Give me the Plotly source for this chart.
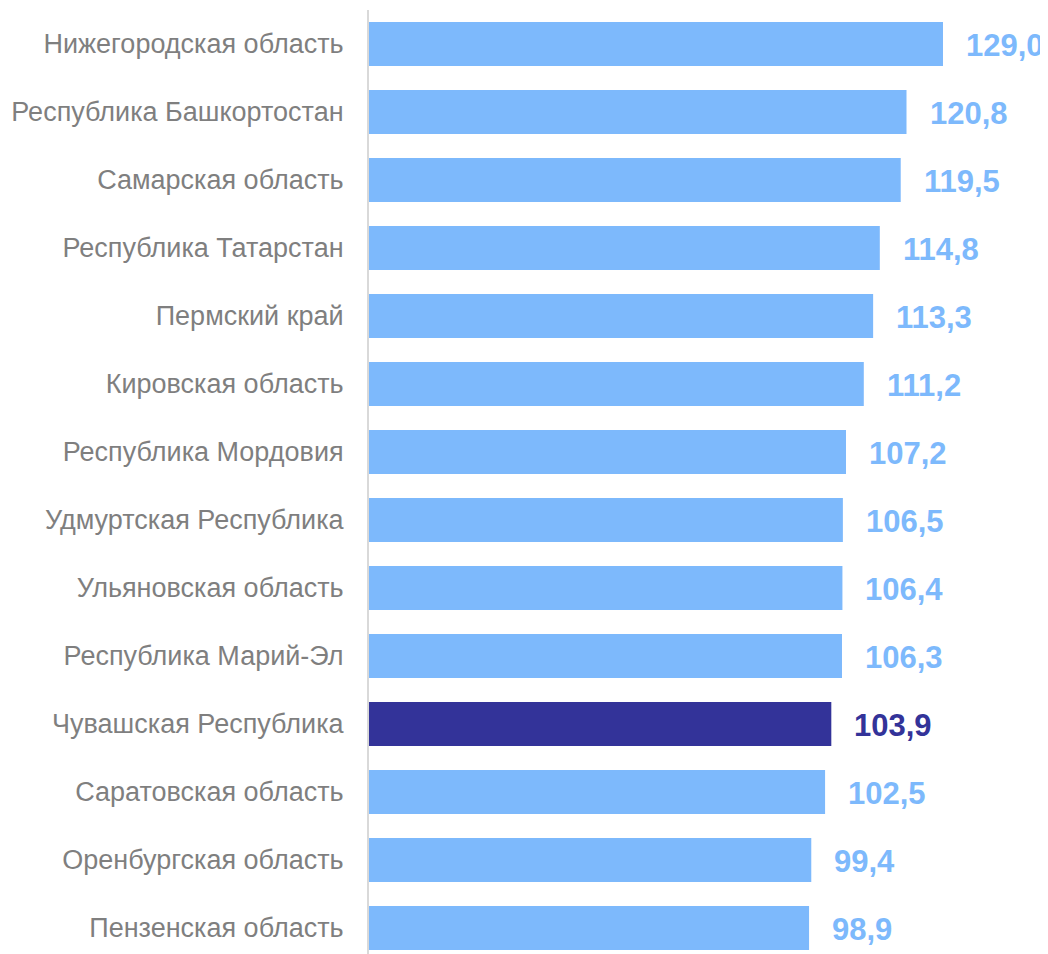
import plotly.graph_objects as go

regions = [
    "Нижегородская область",
    "Республика Башкортостан",
    "Самарская область",
    "Республика Татарстан",
    "Пермский край",
    "Кировская область",
    "Республика Мордовия",
    "Удмуртская Республика",
    "Ульяновская область",
    "Республика Марий-Эл",
    "Чувашская Республика",
    "Саратовская область",
    "Оренбургская область",
    "Пензенская область",
]
values = [129.0, 120.8, 119.5, 114.8, 113.3, 111.2, 107.2, 106.5, 106.4, 106.3, 103.9, 102.5, 99.4, 98.9]
highlight = "Чувашская Республика"

LIGHT = "#7DB9FC"
DARK = "#333399"
colors = [DARK if r == highlight else LIGHT for r in regions]
labels = [f"{v:.1f}".replace(".", ",") for v in values]

fig = go.Figure()
fig.add_trace(go.Bar(
    x=values, y=regions, orientation="h",
    marker=dict(color=colors, line=dict(width=0)),
    hoverinfo="skip",
))

for r, v, t, c in zip(regions, values, labels, colors):
    fig.add_annotation(
        x=v, y=r, text=t, showarrow=False,
        xanchor="left", xshift=21, yshift=-1,
        font=dict(family="Liberation Sans, Arial, sans-serif", size=31, color=c, weight="bold"),
    )

fig.update_layout(
    width=1040, height=946,
    margin=dict(l=361, r=0, t=2, b=0),
    paper_bgcolor="white", plot_bgcolor="white",
    bargap=0.353,
    showlegend=False,
    font=dict(family="Liberation Sans, Arial, sans-serif"),
)
fig.update_xaxes(
    range=[0, 152.6], showgrid=False, zeroline=False, showticklabels=False,
    showline=False, fixedrange=True,
)
fig.update_yaxes(
    type="category", categoryorder="array", categoryarray=regions,
    range=[13.382, -0.5],
    showgrid=False, zeroline=False,
    showline=True, linecolor="#D9D9D9", linewidth=2,
    ticks="", ticklabelstandoff=18,
    tickfont=dict(family="Liberation Sans, Arial, sans-serif", size=27, color="#7F7F7F"),
)

fig.write_html("out.html")
